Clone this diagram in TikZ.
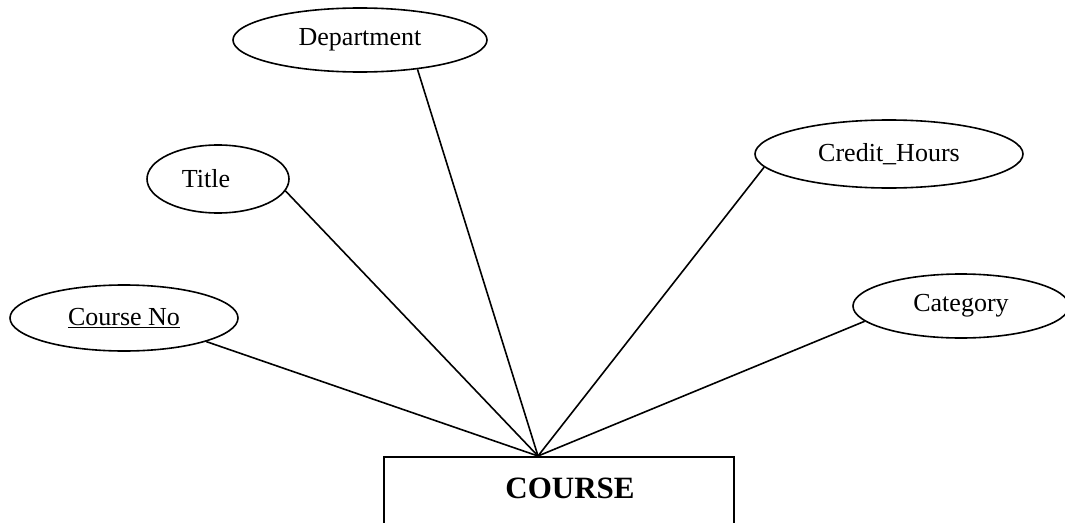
\documentclass[tikz,border=0pt]{standalone}
\usepackage{fontspec}
\setmainfont{Liberation Serif}
\usetikzlibrary{shapes.geometric}
\begin{document}
\begin{tikzpicture}[x=1pt,y=-1pt,
  attr/.style={draw,ellipse,line width=1.6pt,inner sep=0pt,font=\fontsize{26}{28}\selectfont},
  link/.style={line width=1.6pt},
  entity/.style={draw,rectangle,line width=1.6pt,inner sep=0pt,anchor=north west}]
\useasboundingbox (0,0) rectangle (1065,522);
\clip (0,0) rectangle (1065,522);
\fill[white] (0,0) rectangle (1065,522);
% attributes
\node[attr,minimum width=254pt,minimum height=64pt] (dept) at (360,40) {Department};
\node[attr,minimum width=142pt,minimum height=68pt] (title) at (218,179) {\hspace*{-24pt}Title};
\node[attr,minimum width=228pt,minimum height=66pt] (cno) at (124,318) {\underline{Course No}};
\node[attr,minimum width=268pt,minimum height=68pt] (credit) at (889,154) {Credit\_Hours};
\node[attr,minimum width=216pt,minimum height=64pt] (cat) at (961,306) {Category};
% entity (open at the bottom of the page)
\node[entity,minimum width=350pt,minimum height=120pt] (course) at (383,456) {};
\node[font=\fontsize{31}{33}\selectfont\bfseries] (clabel) at (570,488) {COURSE};
\coordinate (hub) at (538,456);
% connectors
\draw[link] (cno.-16) -- (hub);
\draw[link] (title.-10) -- (hub);
\draw[link] (dept.-27) -- (hub);
\draw[link] (credit.-174) -- (hub);
\draw[link] (cat.-171) -- (hub);
\end{tikzpicture}
\end{document}
